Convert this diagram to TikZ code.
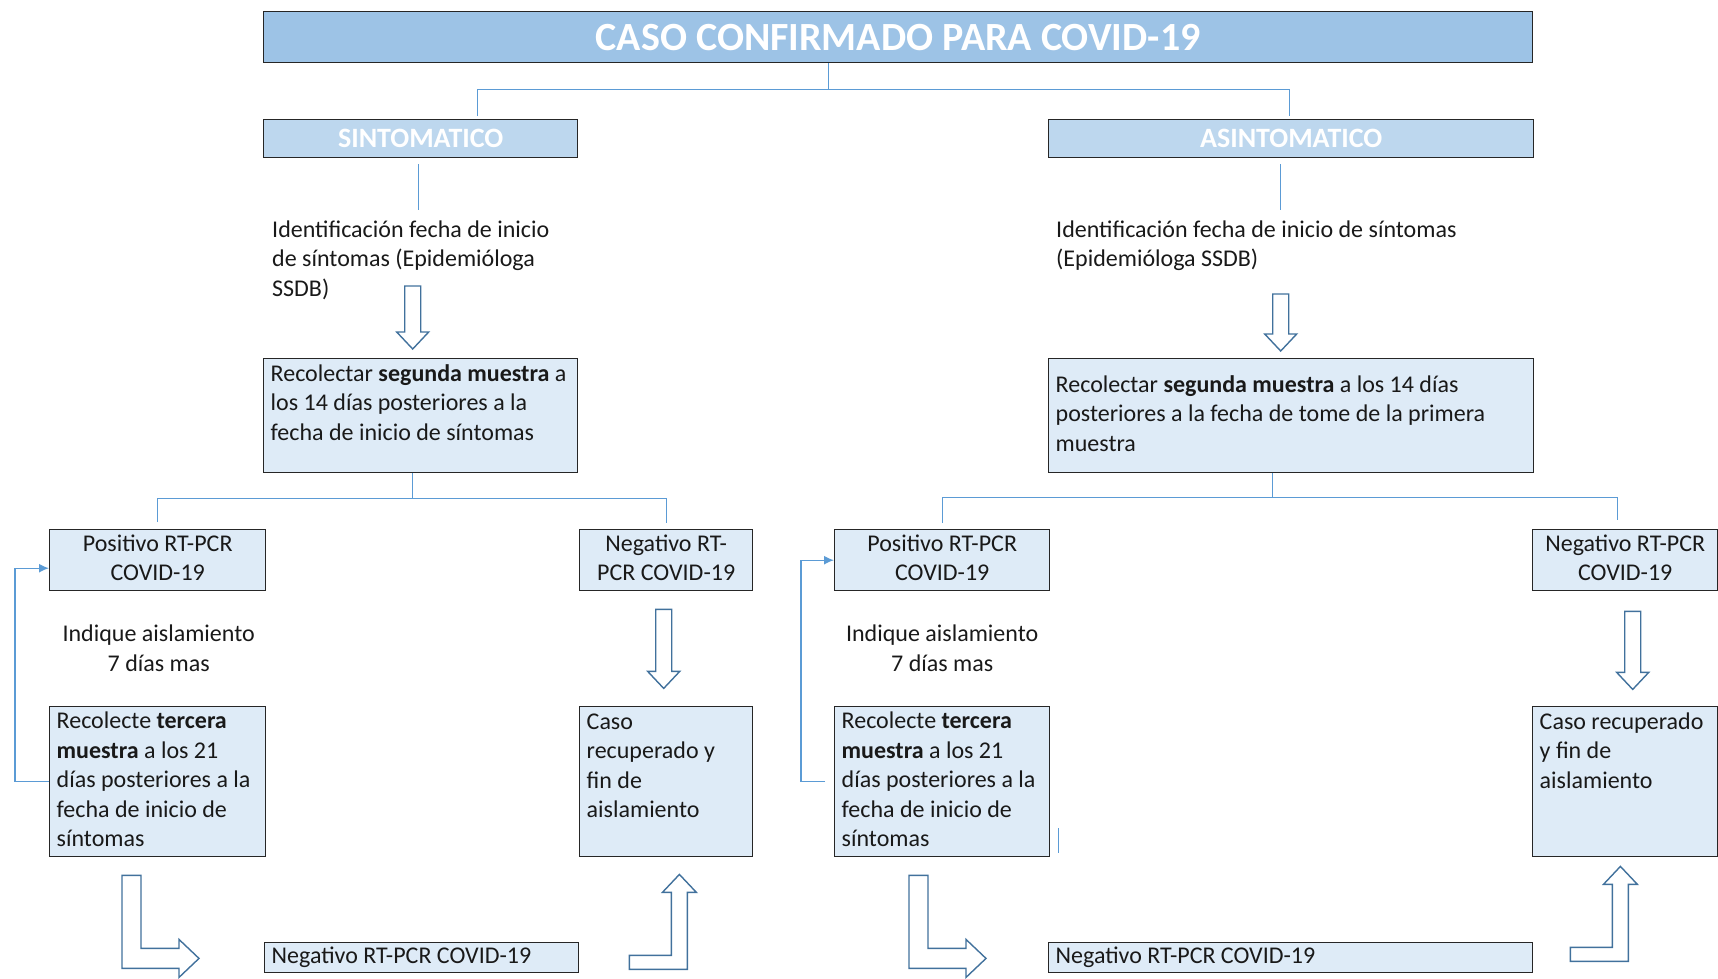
\documentclass[tikz,border=0pt]{standalone}
\usepackage{fontspec}
\setmainfont{Carlito}
\usetikzlibrary{calc,positioning,arrows.meta}

\definecolor{azultitulo}{HTML}{9DC3E6}
\definecolor{azulsub}{HTML}{BDD7EE}
\definecolor{azulcaja}{HTML}{DEEBF7}
\definecolor{azullinea}{HTML}{5B9BD5}
\definecolor{azulflecha}{HTML}{41719C}

\newcommand{\cuerpo}{\fontsize{24}{29.5}\selectfont}
\newcommand{\arriba}[3]{\parbox[c][#2][t]{#1}{\raggedright\strut#3}}

\begin{document}
\begin{tikzpicture}[x=1pt, y=-1pt,
    marco/.style={draw=black!85, line width=1.4pt, anchor=north west, inner xsep=7pt, inner ysep=0pt},
    caja/.style={marco, fill=azulcaja, text=black!90, font=\cuerpo, execute at begin node=\strut, execute at end node=\strut},
    encabezado/.style={marco, fill=azultitulo, text=white, font=\bfseries\fontsize{40}{44}\selectfont},
    subtitulo/.style={marco, fill=azulsub, text=white, font=\bfseries\fontsize{28}{32}\selectfont},
    texto/.style={inner sep=0pt, anchor=north west, text=black!90, font=\cuerpo, execute at begin node=\strut, execute at end node=\strut},
    linea/.style={draw=azullinea, line width=1.4pt},
    retro/.style={linea, -{Latex[length=10pt, width=9pt]}},
    hueca/.style={draw=azulflecha, line width=1.4pt, fill=white, line join=miter},
    pics/bajada/.style={code={\draw[hueca] (-8,0) -- (8,0) -- (8,#1-17) -- (16,#1-17) -- (0,#1) -- (-16,#1-17) -- (-8,#1-17) -- cycle;}},
    pics/codo/.style={code={\draw[hueca] (0,0) -- (19,0) -- (19,73) -- (57,73) -- (57,64) -- (77,83) -- (57,102) -- (57,93) -- (0,93) -- cycle;}},
    pics/subida/.style={code={\draw[hueca] (0,0) -- (0,-14) -- (42,-14) -- (42,-77) -- (33,-77) -- (50,-95) -- (67,-77) -- (58,-77) -- (58,0) -- cycle;}}]
    \useasboundingbox (0,0) rectangle (1718,978);

    % cabecera
    \node[encabezado, minimum width=1269pt, minimum height=51pt] (titulo) at (263,11) {CASO CONFIRMADO PARA COVID-19};
    \node[subtitulo, minimum width=314pt, minimum height=38pt] (sint) at (263,119) {SINTOMATICO};
    \node[subtitulo, minimum width=485pt, minimum height=38pt] (asint) at (1048,119) {ASINTOMATICO};

    \coordinate (t0) at ($(titulo.south west)!.445!(titulo.south east)$);
    \draw[linea] (t0) -- ++(0,26) coordinate (t1);
    \draw[linea] ($(sint.north)+(56.5,-3)$) |- (t1) -| ($(asint.north)+(-1.5,-3)$);

    \node[texto, align=left] (ident1) at ($(sint.south west)+(9,62)$) {Identificación fecha de inicio\\de síntomas (Epidemióloga\\SSDB)};
    \node[texto, align=left] (ident2) at ($(asint.south west)+(8,62)$) {Identificación fecha de inicio de síntomas\\(Epidemióloga SSDB)};
    \draw[linea] ($(sint.south)+(-2,6)$) -- ++(0,46);
    \draw[linea] ($(asint.south)+(-10.5,6)$) -- ++(0,46);

    \node[caja, minimum width=314pt, minimum height=114pt] (seg1) at (263,358) {\arriba{300pt}{110pt}{Recolectar \textbf{segunda muestra} a\\los 14 días posteriores a la\\fecha de inicio de síntomas}};
    \node[caja, text width=471pt, align=flush left, minimum height=114pt] (seg2) at (1048,358) {Recolectar \textbf{segunda muestra} a los 14 días\\posteriores a la fecha de tome de la primera\\muestra};
    \pic at ($(seg1.north)+(-8,-72)$) {bajada=63};
    \pic at ($(seg2.north)+(-10.5,-64)$) {bajada=57};

    % rama sintomatico
    \node[caja, text width=202pt, align=flush center, minimum height=61pt] (pos1) at (49,529) {Positivo RT-PCR\\COVID-19};
    \node[caja, text width=159pt, align=flush center, minimum height=61pt] (neg1) at (579,529) {Negativo RT-\\PCR COVID-19};
    \draw[linea] ($(seg1.south)+(-8,0)$) -- ++(0,25) coordinate (r1);
    \draw[linea] ($(pos1.north)+(0,-7)$) |- (r1) -| ($(neg1.north)+(0,-6)$);

    \node[texto, anchor=center, align=center] (ind1) at ($(pos1.south)+(1,61)$) {Indique aislamiento\\7 días mas};
    \node[caja, text width=202pt, align=flush left, minimum height=150pt] (rec1) at (49,706) {Recolecte \textbf{tercera}\\\textbf{muestra} a los 21\\días posteriores a la\\fecha de inicio de\\síntomas};
    \node[caja, minimum width=173pt, minimum height=150pt] (caso1) at (579,706) {\arriba{159pt}{146pt}{Caso\\recuperado y\\fin de\\aislamiento}};
    \node[caja, text width=300pt, align=flush left, minimum height=30pt] (nb1) at (264,942) {Negativo RT-PCR COVID-19};

    \draw[retro] (rec1.west) -- ++(-34,0) |- ($(pos1.west)+(0,8)$);
    \pic at ($(neg1.south)+(-2.5,18)$) {bajada=79};
    \pic at ($(rec1.south west)+(73,18)$) {codo};
    \pic at ($(nb1.south east)+(50,-4)$) {subida};

    % rama asintomatico
    \node[caja, text width=201pt, align=flush center, minimum height=61pt] (pos2) at (834,529) {Positivo RT-PCR\\COVID-19};
    \node[caja, text width=171pt, align=flush center, minimum height=61pt] (neg2) at (1532,529) {Negativo RT-PCR\\COVID-19};
    \draw[linea] ($(seg2.south)+(-18.5,0)$) -- ++(0,24) coordinate (r2);
    \draw[linea] ($(pos2.north)+(0,-6)$) |- (r2) -| ($(neg2.north)+(-8,-9)$);

    \node[texto, anchor=center, align=center] (ind2) at ($(pos2.south)+(0,61)$) {Indique aislamiento\\7 días mas};
    \node[caja, text width=201pt, align=flush left, minimum height=150pt] (rec2) at (834,706) {Recolecte \textbf{tercera}\\\textbf{muestra} a los 21\\días posteriores a la\\fecha de inicio de\\síntomas};
    \node[caja, minimum width=185pt, minimum height=150pt] (caso2) at (1532,706) {\arriba{171pt}{146pt}{Caso recuperado\\y fin de\\aislamiento}};
    \node[caja, text width=470pt, align=flush left, minimum height=30pt] (nb2) at (1048,942) {Negativo RT-PCR COVID-19};

    \draw[retro] ($(rec2.west)+(-9,0)$) -- ++(-24,0) |- (pos2.west);
    \draw[linea] ($(rec2.south east)+(8,-29)$) -- ++(0,25);
    \pic at ($(neg2.south)+(7.5,20)$) {bajada=78};
    \pic at ($(rec2.south west)+(75,18)$) {codo};
    \pic at ($(nb2.south east)+(37,-12)$) {subida};
\end{tikzpicture}
\end{document}
